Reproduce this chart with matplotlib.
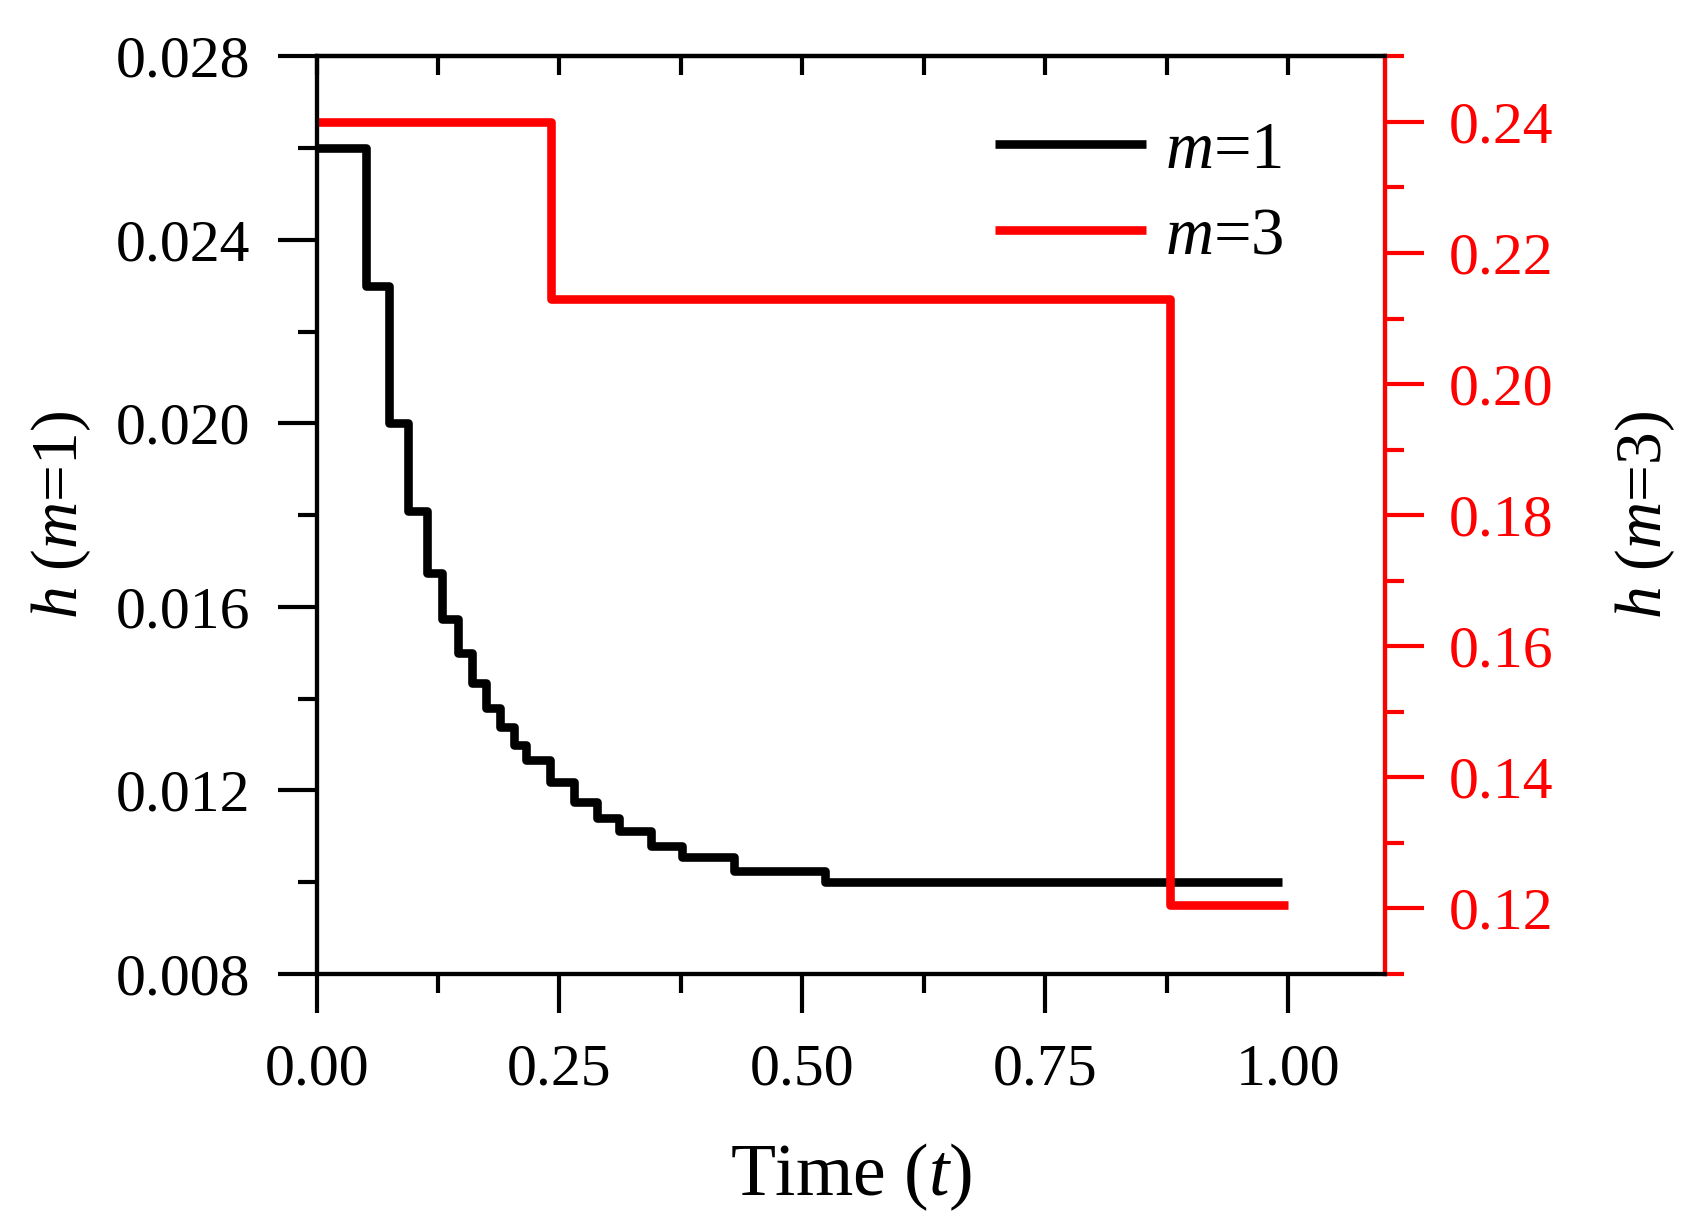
#!/usr/bin/env python3
"""Step plot of h for m=1 (left axis) and m=3 (right axis) against time."""

import matplotlib
matplotlib.use('Agg')
import matplotlib.pyplot as plt
from matplotlib.ticker import MultipleLocator, FormatStrFormatter

# values (step starts, last x is the end point)
t_m1 = [0.0, 0.051, 0.075, 0.0945, 0.1135, 0.129, 0.146, 0.160, 0.174, 0.189,
        0.203, 0.2155, 0.240, 0.265, 0.2885, 0.311, 0.344, 0.376, 0.430, 0.523, 0.994]
h_m1 = [0.0260, 0.0230, 0.0200, 0.0181, 0.01673, 0.01573, 0.01499, 0.01435, 0.01380, 0.01337,
        0.01299, 0.01266, 0.01217, 0.01175, 0.01139, 0.01112, 0.01079, 0.01054, 0.01025, 0.0100, 0.0100]

t_m3 = [0.0, 0.241, 0.879, 1.0]
h_m3 = [0.240, 0.213, 0.1205, 0.1205]

top_ticks = [0.0, 0.125, 0.25, 0.375, 0.5, 0.625, 0.75, 0.875, 1.0]

plt.rcParams['font.family'] = ['Liberation Serif', 'DejaVu Serif']
plt.rcParams['mathtext.fontset'] = 'custom'
plt.rcParams['mathtext.rm'] = 'Liberation Serif'
plt.rcParams['mathtext.it'] = 'Liberation Serif:italic'

FS = 43
LW = 6.2
SPW = 3.0

fig = plt.figure(figsize=(17.02, 12.27), dpi=100)
ax = fig.add_axes([0.186, 0.2064, 0.6278, 0.7476])

l1, = ax.step(t_m1, h_m1, where='post', color='black', lw=LW,
              solid_capstyle='butt', label='$m$=1')
ax.set_xlim(0, 1.1)
ax.set_ylim(0.008, 0.028)
ax.yaxis.set_major_locator(MultipleLocator(0.004))
ax.yaxis.set_minor_locator(MultipleLocator(0.002))
ax.yaxis.set_major_formatter(FormatStrFormatter('%.3f'))
ax.xaxis.set_major_locator(MultipleLocator(0.25))
ax.xaxis.set_minor_locator(MultipleLocator(0.125))
ax.xaxis.set_major_formatter(FormatStrFormatter('%.2f'))
ax.set_xticks([0, 0.25, 0.5, 0.75, 1.0])
ax.tick_params(axis='both', which='major', direction='out', length=28, width=SPW,
               labelsize=FS)
ax.tick_params(axis='both', which='minor', direction='out', length=14, width=SPW)
ax.tick_params(axis='y', which='major', pad=20)
ax.tick_params(axis='x', which='major', pad=22)
for s in ax.spines.values():
    s.set_linewidth(SPW)

ax.set_xlabel('Time ($t$)', fontsize=53)
ax.xaxis.set_label_coords(0.5, -0.183)
ax.set_ylabel('$h$ ($m$=1)', fontsize=47)
ax.yaxis.set_label_coords(-0.2095, 0.5)

# inward ticks along the top
sec = ax.secondary_xaxis('top')
sec.set_xticks(top_ticks)
sec.tick_params(direction='in', length=14, width=SPW, labeltop=False)
sec.spines['top'].set_linewidth(SPW)

ax2 = ax.twinx()
l3, = ax2.step(t_m3, h_m3, where='post', color='#ff0000', lw=LW,
               solid_capstyle='butt', label='$m$=3')
ax2.set_ylim(0.11, 0.25)
ax2.yaxis.set_major_locator(MultipleLocator(0.02))
ax2.yaxis.set_minor_locator(MultipleLocator(0.01))
ax2.yaxis.set_major_formatter(FormatStrFormatter('%.2f'))
ax2.tick_params(axis='y', which='major', direction='out', length=28, width=SPW,
                labelsize=FS, colors='#ff0000', pad=18)
ax2.tick_params(axis='y', which='minor', direction='out', length=14, width=SPW,
                colors='#ff0000')
for s in ax2.spines.values():
    s.set_linewidth(SPW)
ax2.spines['right'].set_color('#ff0000')
ax2.set_ylabel('$h$ ($m$=3)', fontsize=47, color='black')
ax2.yaxis.set_label_coords(1.2135, 0.5)

ax2.legend(handles=[l1, l3], loc='upper right', bbox_to_anchor=(0.905, 0.93),
           frameon=False, fontsize=48, handlelength=2.26, handletextpad=0.29,
           labelspacing=0.37, borderpad=0, borderaxespad=0)

plt.savefig('out.png', dpi=100)
plt.close()
